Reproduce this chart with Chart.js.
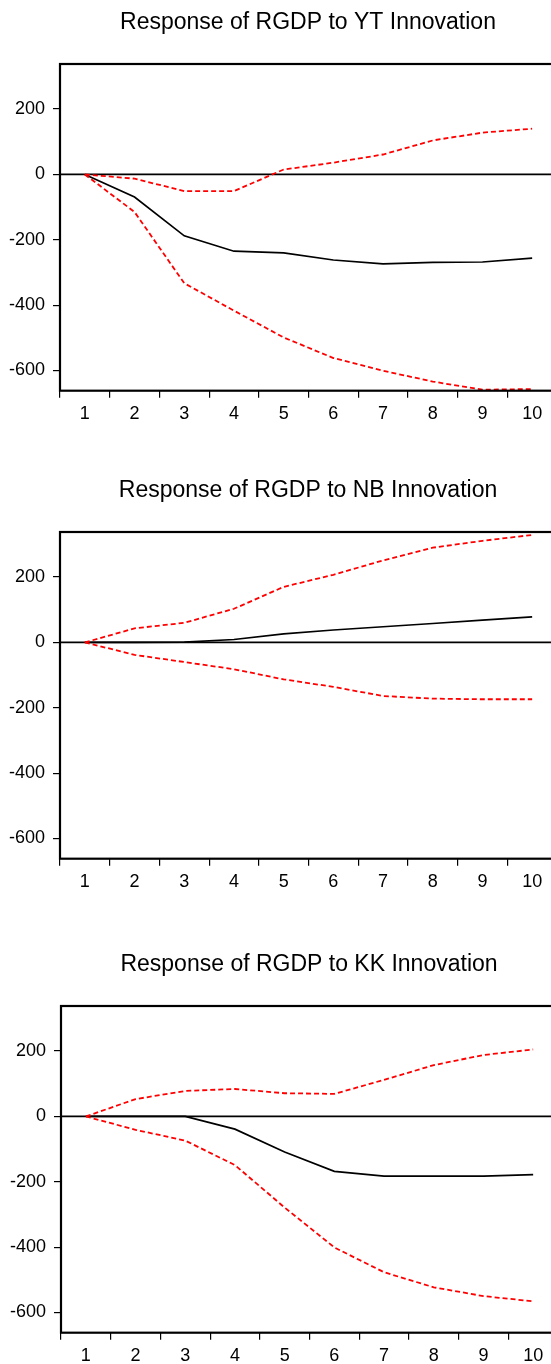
<!DOCTYPE html>
<html>
<head>
<meta charset="utf-8">
<script src="https://cdn.jsdelivr.net/npm/chart.js@4.4.1/dist/chart.umd.min.js"></script>
<style>
  html, body { margin: 0; padding: 0; background: #fff; overflow: hidden; width: 551px; height: 1364px; }
  canvas { position: absolute; }
</style>
</head>
<body>
<canvas id="c1" width="616" height="430" style="left:0px;top:0px"></canvas>
<canvas id="c2" width="616" height="430" style="left:0px;top:468px"></canvas>
<canvas id="c3" width="616" height="430" style="left:1px;top:942px"></canvas>
<script>
// ---- data ----
const periods = ['1', '2', '3', '4', '5', '6', '7', '8', '9', '10'];
const yTicks = [-600, -400, -200, 0, 200];
const titles = [
  'Response of RGDP to YT Innovation',
  'Response of RGDP to NB Innovation',
  'Response of RGDP to KK Innovation'
];

const ytResp  = [0, -69, -188, -235, -240, -262, -274, -269, -268, -256];
const ytUpper = [0, -13, -51, -51, 15, 36, 61, 104, 128, 140];
const ytLower = [0, -115, -333, -417, -499, -562, -601, -634, -659, -657];

const nbResp  = [0, 0, 1, 9, 26, 38, 48, 58, 68, 78];
const nbUpper = [0, 43, 60, 103, 170, 207, 251, 290, 311, 329];
const nbLower = [0, -38, -60, -82, -113, -136, -164, -172, -174, -174];

const kkResp  = [0, 0, 0, -39, -109, -168, -183, -183, -183, -178];
const kkUpper = [0, 53, 78, 84, 71, 69, 112, 157, 188, 205];
const kkLower = [0, -41, -74, -149, -279, -401, -477, -523, -550, -566];

const yMin = -662;
const yMax = 338;

// ---- drawing ----
const FONT = "'Liberation Sans', Arial, Helvetica, sans-serif";

const framePlugin = {
  id: 'frame',
  beforeDatasetsDraw(chart) {
    const { ctx, chartArea: a, scales } = chart;
    const y0 = scales.y.getPixelForValue(0);
    ctx.save();
    ctx.strokeStyle = '#000';
    ctx.lineWidth = 1.6;
    ctx.beginPath();
    ctx.moveTo(a.left, y0);
    ctx.lineTo(a.right, y0);
    ctx.stroke();
    ctx.restore();
  },
  afterDatasetsDraw(chart) {
    const { ctx, chartArea: a } = chart;
    ctx.save();
    ctx.strokeStyle = '#000';
    ctx.lineWidth = 2.2;
    ctx.strokeRect(a.left, a.top, a.right - a.left, a.bottom - a.top);
    ctx.restore();
  }
};

function makeChart(id, title, resp, upper, lower) {
  const red = {
    borderColor: '#ff0000', borderWidth: 1.8, borderDash: [5, 3],
    pointRadius: 0, tension: 0, fill: false
  };
  new Chart(document.getElementById(id), {
    type: 'line',
    data: {
      labels: periods,
      datasets: [
        Object.assign({ data: upper }, red),
        Object.assign({ data: lower }, red),
        { data: resp, borderColor: '#000', borderWidth: 1.7, pointRadius: 0, tension: 0, fill: false }
      ]
    },
    options: {
      responsive: false,
      animation: false,
      devicePixelRatio: 1,
      layout: { padding: { left: 0, right: 0, top: 0, bottom: 0 } },
      plugins: {
        legend: { display: false },
        tooltip: { enabled: false },
        title: {
          display: true,
          text: title,
          color: '#000',
          font: { family: FONT, size: 23, weight: 'normal' },
          padding: { top: 8.5, bottom: 27.9 }
        }
      },
      scales: {
        x: {
          type: 'category',
          offset: true,
          grid: {
            offset: true, drawOnChartArea: false, drawTicks: true,
            tickLength: 7, color: '#000', lineWidth: 1.2
          },
          border: { display: false },
          ticks: {
            color: '#000', font: { family: FONT, size: 18 }, padding: 6,
            maxRotation: 0, autoSkip: false
          },
          afterFit(s) { s.height = 39.3; }
        },
        y: {
          min: yMin, max: yMax,
          afterBuildTicks(s) { s.ticks = yTicks.map(v => ({ value: v })); },
          grid: {
            drawOnChartArea: false, drawTicks: true,
            tickLength: 7, color: '#000', lineWidth: 1.2
          },
          border: { display: false },
          ticks: {
            color: '#000', font: { family: FONT, size: 18 }, padding: 8,
            callback: v => String(v)
          },
          afterFit(s) { s.width = 60; }
        },
        yR: {
          position: 'right',
          display: true,
          min: yMin, max: yMax,
          grid: { display: false, drawTicks: false },
          border: { display: false },
          ticks: { display: false },
          afterFit(s) { s.width = 59; }
        }
      }
    },
    plugins: [framePlugin]
  });
}

makeChart('c1', titles[0], ytResp, ytUpper, ytLower);
makeChart('c2', titles[1], nbResp, nbUpper, nbLower);
makeChart('c3', titles[2], kkResp, kkUpper, kkLower);
</script>
</body>
</html>
